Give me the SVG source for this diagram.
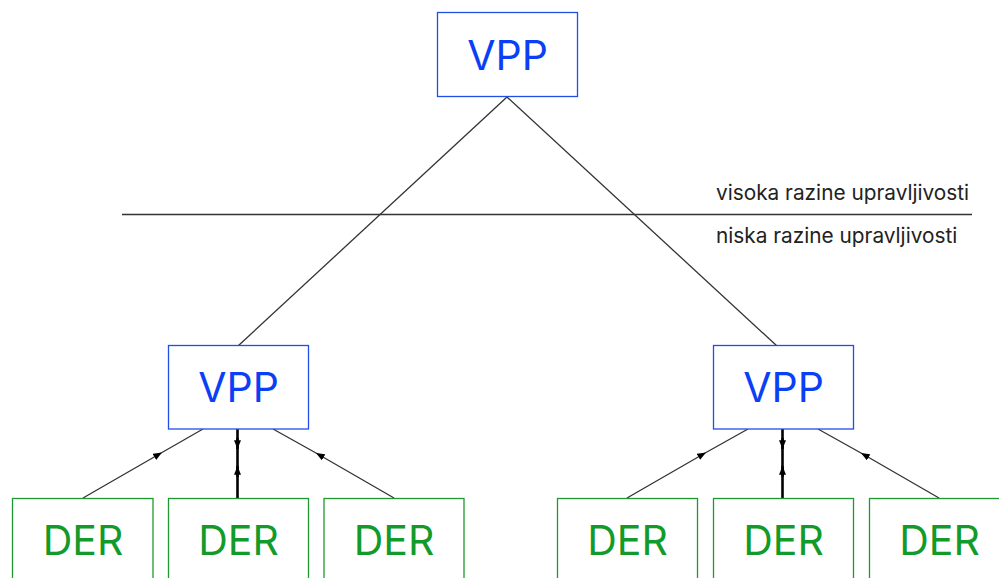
<svg xmlns="http://www.w3.org/2000/svg" width="999" height="578" viewBox="0 0 999 578">
<style>
.vpp rect{fill:#fff;stroke:#1f4fe6;stroke-width:1.3}
.vpp text{fill:#0b3ff5;font-family:Inter,"Noto Sans",sans-serif;font-size:41px;text-anchor:middle}
.der rect{fill:#fff;stroke:#1f9a30;stroke-width:1.3}
.der text{fill:#129b2a;font-family:Inter,"Noto Sans",sans-serif;font-size:41px;text-anchor:middle}
.thin{stroke:#333;stroke-width:1.3;fill:none}
.thick{stroke:#000;stroke-width:2.6;fill:none}
.lbl{fill:#222;font-family:Inter,"Noto Sans",sans-serif;font-size:20.8px}
</style>
<defs>
<marker id="ah" viewBox="0 0 10 8" refX="10" refY="4" markerWidth="9" markerHeight="7" markerUnits="userSpaceOnUse" orient="auto">
<path d="M0,0 L10,4 L0,8 Z" fill="#000"/>
</marker>
</defs>
<rect width="999" height="578" fill="#fff"/>
<g id="connectors">
<line class="thin" x1="507" y1="97" x2="238" y2="346"/>
<line class="thin" x1="507" y1="97" x2="777" y2="346"/>
<line class="thin" x1="122" y1="214.5" x2="972" y2="214.5"/>
<path class="thin" d="M83,498 L162,452.5 L203,429" marker-mid="url(#ah)"/>
<path class="thin" d="M394,498 L316,453 L273,429" marker-mid="url(#ah)"/>
<line class="thick" x1="237.5" y1="429" x2="237.5" y2="498"/>
<path class="thick" d="M237.5,438 L237.5,449" marker-end="url(#ah)"/>
<path class="thick" d="M237.5,477 L237.5,466" marker-end="url(#ah)"/>
<path class="thin" d="M627,498 L706,452.5 L748,429" marker-mid="url(#ah)"/>
<path class="thin" d="M939,498 L861,453 L818,429" marker-mid="url(#ah)"/>
<line class="thick" x1="782.5" y1="429" x2="782.5" y2="498"/>
<path class="thick" d="M782.5,438 L782.5,449" marker-end="url(#ah)"/>
<path class="thick" d="M782.5,477 L782.5,466" marker-end="url(#ah)"/>
</g>
<g id="vpp-top" class="vpp"><rect x="437.5" y="12.5" width="140" height="84"/><text x="507.5" y="70">VPP</text></g>
<g id="vpp-left" class="vpp"><rect x="168.5" y="345.5" width="140" height="83.5"/><text x="238.5" y="402">VPP</text></g>
<g id="vpp-right" class="vpp"><rect x="713.5" y="345.5" width="140" height="83.5"/><text x="783.5" y="402">VPP</text></g>
<g id="der-1" class="der"><rect x="12.5" y="498.5" width="140.5" height="86"/><text x="83" y="555">DER</text></g>
<g id="der-2" class="der"><rect x="168.5" y="498.5" width="140" height="86"/><text x="238.5" y="555">DER</text></g>
<g id="der-3" class="der"><rect x="324" y="498.5" width="140" height="86"/><text x="394" y="555">DER</text></g>
<g id="der-4" class="der"><rect x="557.5" y="498.5" width="140" height="86"/><text x="627.5" y="555">DER</text></g>
<g id="der-5" class="der"><rect x="713.5" y="498.5" width="140" height="86"/><text x="783.5" y="555">DER</text></g>
<g id="der-6" class="der"><rect x="869.5" y="498.5" width="140" height="86"/><text x="939.5" y="555">DER</text></g>
<g id="labels">
<text class="lbl" x="716" y="200">visoka razine upravljivosti</text>
<text class="lbl" x="716" y="243">niska razine upravljivosti</text>
</g>
</svg>
